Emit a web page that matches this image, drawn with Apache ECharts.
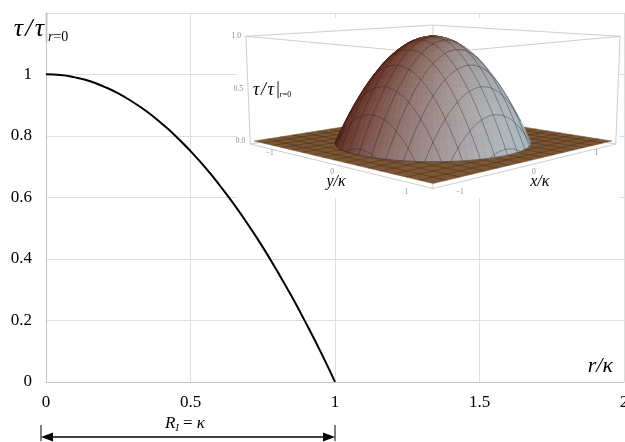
<!DOCTYPE html>
<html>
<head>
<meta charset="utf-8">
<script src="https://cdn.jsdelivr.net/npm/echarts@6.0.0/dist/echarts.min.js"></script>
<style>
  html, body { margin: 0; padding: 0; background: #fff; }
  #chart { width: 625px; height: 442px; }
</style>
</head>
<body>
<div id="chart"></div>
<script>
// Normalised stress profile tau / tau(r=0) across the radius r/kappa
const radius = [0, 0.05, 0.1, 0.15, 0.2, 0.25, 0.3, 0.35, 0.4, 0.45, 0.5,
                0.55, 0.6, 0.65, 0.7, 0.75, 0.8, 0.85, 0.9, 0.95, 1];
const tau = [1, 0.998, 0.99, 0.978, 0.96, 0.938, 0.91, 0.878, 0.84, 0.798, 0.75,
             0.698, 0.64, 0.578, 0.51, 0.438, 0.36, 0.278, 0.19, 0.098, 0];

// Axis ticks of the main plot
const xTickValues = [0, 0.5, 1, 1.5, 2];
const yTickValues = [0, 0.2, 0.4, 0.6, 0.8, 1];

// Ticks of the 3D inset (plane axes and height axis)
const insetPlaneTicks = [-1, 0, 1];
const insetPlaneTickLabels = ['\u22121', '0', '1'];
const insetHeightTicks = [0, 0.5, 1];
const insetHeightTickLabels = ['0.0', '0.5', '1.0'];

const serif = "'Liberation Serif', 'Times New Roman', serif";

// ---- perspective camera for the inset surface ----
const VIEW = { cx: 433, cy: 141, F: 875, d: 9, sinE: 0.19, zScale: 1.072 };
VIEW.cosE = Math.sqrt(1 - VIEW.sinE * VIEW.sinE);
const camera = [-VIEW.d * VIEW.cosE / Math.SQRT2, VIEW.d * VIEW.cosE / Math.SQRT2, VIEW.d * VIEW.sinE];

function project(x, y, z) {
  const zs = z * VIEW.zScale;
  const w = (y - x) / Math.SQRT2;
  const h = (x + y) / Math.SQRT2;
  const depth = VIEW.d - w * VIEW.cosE - zs * VIEW.sinE;
  return [VIEW.cx + VIEW.F * h / depth,
          VIEW.cy - VIEW.F * (zs * VIEW.cosE - w * VIEW.sinE) / depth,
          depth];
}

// linear light response: base + right-facing + viewer-facing + up-facing terms
const LIGHT_BASE = [130, 124, 132];
const LIGHT_RIGHT = [42, 80, 92];
const LIGHT_FRONT = [45, 50, 52];
const LIGHT_UP = [-20, -52, -74];
function shade(nx, ny, nz) {
  const nh = (nx + ny) / Math.SQRT2;
  const nw = (ny - nx) / Math.SQRT2;
  const c = [0, 1, 2].map(k => Math.round(Math.max(0, Math.min(255,
    LIGHT_BASE[k] + LIGHT_RIGHT[k] * nh + LIGHT_FRONT[k] * nw + LIGHT_UP[k] * nz))));
  return 'rgb(' + c.join(',') + ')';
}

function profileAt(r) {
  const n = radius.length;
  if (r >= radius[n - 1]) {
    return { z: tau[n - 1], slope: (tau[n - 1] - tau[n - 2]) / (radius[n - 1] - radius[n - 2]) };
  }
  let i = 0;
  while (i < n - 2 && r > radius[i + 1]) i++;
  const f = (r - radius[i]) / (radius[i + 1] - radius[i]);
  return { z: tau[i] + f * (tau[i + 1] - tau[i]),
           slope: (tau[i + 1] - tau[i]) / (radius[i + 1] - radius[i]) };
}

function facesCamera(x, y, z, slope) {
  const r = Math.hypot(x, y);
  const m = slope * VIEW.zScale;
  let nx = 0, ny = 0, nz = 1;
  if (r > 1e-9) { nx = -m * x / r; ny = -m * y / r; }
  const l = Math.hypot(nx, ny, nz);
  nx /= l; ny /= l; nz /= l;
  const pz = z * VIEW.zScale;
  return nx * (camera[0] - x) + ny * (camera[1] - y) + nz * (camera[2] - pz) > 0;
}

function renderInset(params, api) {
  const kids = [];
  let order = 0;
  const push = el => { el.z2 = order++; kids.push(el); };
  const xy = p => [p[0], p[1]];

  // white panel behind the inset
  push({ type: 'rect', shape: { x: 237, y: 18, width: 382, height: 180 }, style: { fill: '#fff' } });

  // bounding box
  const BOX = 1.33, BOX_LO = -0.03, BOX_HI = 1.0;
  const corners = [[-BOX, -BOX], [BOX, -BOX], [BOX, BOX], [-BOX, BOX]];
  const edge = (a, b) => push({ type: 'line',
    shape: { x1: a[0], y1: a[1], x2: b[0], y2: b[1] },
    style: { stroke: '#c2c2c2', lineWidth: 0.8 } });
  for (let k = 0; k < 4; k++) {
    const a = corners[k], b = corners[(k + 1) % 4];
    edge(project(a[0], a[1], BOX_LO), project(b[0], b[1], BOX_LO));
    edge(project(a[0], a[1], BOX_HI), project(b[0], b[1], BOX_HI));
    edge(project(a[0], a[1], BOX_LO), project(a[0], a[1], BOX_HI));
  }

  // base plane
  const PLANE = 1.3;
  push({ type: 'polygon',
    shape: { points: [[-PLANE, -PLANE], [PLANE, -PLANE], [PLANE, PLANE], [-PLANE, PLANE]]
      .map(c => xy(project(c[0], c[1], 0))) },
    style: { fill: '#7a5634', stroke: '#7a5634', lineWidth: 0.5 } });

  const meshStep = 2 * PLANE / 16;
  const meshValues = [];
  for (let k = 1; k <= 15; k++) meshValues.push(-PLANE + k * meshStep);
  meshValues.forEach(m => {
    const a1 = project(m, -PLANE, 0), a2 = project(m, PLANE, 0);
    const b1 = project(-PLANE, m, 0), b2 = project(PLANE, m, 0);
    [[a1, a2], [b1, b2]].forEach(([p, q]) => push({ type: 'line',
      shape: { x1: p[0], y1: p[1], x2: q[0], y2: q[1] },
      style: { stroke: 'rgba(45,28,12,0.55)', lineWidth: 0.6 } }));
  });

  // dome facets (surface of revolution of the profile)
  const nT = 96;
  const quads = [];
  for (let i = 0; i < radius.length - 1; i++) {
    const r0 = radius[i], r1 = radius[i + 1], h0 = tau[i], h1 = tau[i + 1];
    const m = (h1 - h0) * VIEW.zScale / (r1 - r0);
    for (let j = 0; j < nT; j++) {
      const t0 = j * 2 * Math.PI / nT, t1 = (j + 1) * 2 * Math.PI / nT, tm = (t0 + t1) / 2;
      let nx = -m * Math.cos(tm), ny = -m * Math.sin(tm), nz = 1;
      const nl = Math.hypot(nx, ny, nz);
      nx /= nl; ny /= nl; nz /= nl;
      const rm = (r0 + r1) / 2, px = rm * Math.cos(tm), py = rm * Math.sin(tm);
      const hm = (h0 + h1) / 2, pz = hm * VIEW.zScale;
      const dot = nx * (camera[0] - px) + ny * (camera[1] - py) + nz * (camera[2] - pz);
      if (dot <= 0) continue;
      const pts = [
        project(r0 * Math.cos(t0), r0 * Math.sin(t0), h0),
        project(r1 * Math.cos(t0), r1 * Math.sin(t0), h1),
        project(r1 * Math.cos(t1), r1 * Math.sin(t1), h1),
        project(r0 * Math.cos(t1), r0 * Math.sin(t1), h0)
      ].map(xy);
      quads.push({ pts, depth: project(px, py, hm)[2], color: shade(nx, ny, nz) });
    }
  }
  quads.sort((a, b) => b.depth - a.depth);
  quads.forEach(q => push({ type: 'polygon', shape: { points: q.pts },
    style: { fill: q.color, stroke: q.color, lineWidth: 0.6 } }));

  // mesh curves on the dome
  const flush = (run, stroke, width) => {
    if (run.length > 1) push({ type: 'polyline', shape: { points: run.slice() },
      style: { stroke, lineWidth: width, fill: null } });
  };
  const meshInk = 'rgba(35,25,25,0.6)';
  meshValues.forEach(m => {
    if (Math.abs(m) >= 1) return;
    const s = Math.sqrt(1 - m * m);
    [0, 1].forEach(fam => {
      let run = [];
      const N = 64;
      for (let q = 0; q <= N; q++) {
        const t = -s + 2 * s * q / N;
        const x = fam ? m : t, y = fam ? t : m;
        const pr = profileAt(Math.min(1, Math.hypot(x, y)));
        if (facesCamera(x, y, pr.z, pr.slope)) run.push(xy(project(x, y, pr.z)));
        else { flush(run, meshInk, 0.6); run = []; }
      }
      flush(run, meshInk, 0.6);
    });
  });

  // rim where the dome meets the plane
  {
    let run = [];
    const N = 180;
    const lastSlope = profileAt(radius[radius.length - 1]).slope;
    for (let q = 0; q <= N; q++) {
      const t = q * 2 * Math.PI / N;
      const x = Math.cos(t), y = Math.sin(t);
      if (facesCamera(x, y, 0, lastSlope)) run.push(xy(project(x, y, 0)));
      else { flush(run, 'rgba(45,25,20,0.65)', 0.8); run = []; }
    }
    flush(run, 'rgba(45,25,20,0.65)', 0.8);
  }

  // tick labels
  const tickFont = "7.5px " + serif;
  const label = (text, x, y, align, font, fill) => push({ type: 'text',
    style: { text, x, y, font, fill: fill || '#8c8c8c', textAlign: align, textVerticalAlign: 'middle',
             align, verticalAlign: 'middle' } });
  insetHeightTicks.forEach((v, i) => {
    const p = project(-BOX, -BOX, v);
    label(insetHeightTickLabels[i], p[0] - 5, p[1], 'right', tickFont);
  });
  insetPlaneTicks.forEach((v, i) => {
    const p = project(-BOX, v, 0);
    const w = (v + BOX) / Math.SQRT2;
    label(insetPlaneTickLabels[i], p[0] + 1, p[1] + 7 + 4.5 * w, 'center', tickFont);
    const q = project(v, BOX, 0);
    const wq = (BOX - v) / Math.SQRT2;
    label(insetPlaneTickLabels[i], q[0] - 1, q[1] + 7 + 4.5 * wq, 'center', tickFont);
  });

  // axis titles
  const titleFont = "italic 16px " + serif;
  const py0 = project(-BOX, 0, 0);
  label('y/\u03ba', py0[0] + 5, py0[1] + 21, 'center', titleFont, '#000');
  const px0 = project(0, BOX, 0);
  label('x/\u03ba', px0[0] + 5, px0[1] + 21, 'center', titleFont, '#000');

  const pz = project(-BOX, -BOX, 0.5);
  label('\u03c4\u200a/\u200a\u03c4', pz[0] + 5, pz[1] + 1, 'left', "italic 18px " + serif, '#000');
  push({ type: 'line', shape: { x1: pz[0] + 30, y1: pz[1] - 8, x2: pz[0] + 30, y2: pz[1] + 9 },
    style: { stroke: '#000', lineWidth: 0.9 } });
  push({ type: 'text', style: { text: '{i|r}{n|=0}', x: pz[0] + 31.5, y: pz[1] + 6,
    textAlign: 'left', textVerticalAlign: 'middle', align: 'left', verticalAlign: 'middle',
    rich: { i: { fontStyle: 'italic', fontSize: 8, fontFamily: serif, fill: '#000' },
            n: { fontSize: 8, fontFamily: serif, fill: '#000' } } } });

  return { type: 'group', children: kids };
}

const near = (list, v) => list.some(t => Math.abs(t - v) < 1e-6);

const chart = echarts.init(document.getElementById('chart'), null, { renderer: 'canvas' });
chart.setOption({
  animation: false,
  backgroundColor: '#fff',
  grid: { left: 46, right: 1, top: 12.8, bottom: 60.2, containLabel: false, outerBoundsMode: 'none' },
  xAxis: {
    type: 'value', min: 0, max: 2, interval: 0.5,
    axisLine: { show: true, lineStyle: { color: '#c4c4c4', width: 1 } },
    axisTick: { show: false },
    splitLine: { show: true, lineStyle: { color: '#dedede', width: 1 } },
    axisLabel: { color: '#000', fontFamily: serif, fontSize: 17, margin: 12,
      formatter: v => near(xTickValues, v) ? String(+v.toFixed(2)) : '' }
  },
  yAxis: {
    type: 'value', min: 0, max: 1.2, interval: 0.2,
    axisLine: { show: true, lineStyle: { color: '#c4c4c4', width: 1 } },
    axisTick: { show: false },
    splitLine: { show: true, lineStyle: { color: '#dedede', width: 1 } },
    axisLabel: { color: '#000', fontFamily: serif, fontSize: 17, margin: 14,
      formatter: v => near(yTickValues, v) ? String(+v.toFixed(2)) : '' }
  },
  series: [
    {
      type: 'line', data: radius.map((r, i) => [r, tau[i]]),
      smooth: true, showSymbol: false, silent: true, z: 3,
      lineStyle: { color: '#000', width: 2 }
    },
    {
      type: 'custom', coordinateSystem: 'none', data: [0], silent: true, z: 4,
      renderItem: renderInset
    }
  ]
});

// annotations tied to the axis scale
const origin = chart.convertToPixel({ gridIndex: 0 }, [0, 0]);
const rOne = chart.convertToPixel({ gridIndex: 0 }, [1, 0]);
const yTop = chart.convertToPixel({ gridIndex: 0 }, [0, 1.2]);
const xl = origin[0] - 5, xr = rOne[0], ya = 437;

chart.setOption({
  graphic: [
    { type: 'text', style: { text: '\u03c4\u200a/\u200a\u03c4', x: origin[0] - 2, y: yTop[1] + 16,
        font: 'italic 26px ' + serif, fill: '#000', textAlign: 'right', textVerticalAlign: 'middle' } },
    { type: 'line', shape: { x1: origin[0] + 0.5, y1: yTop[1], x2: origin[0] + 0.5, y2: yTop[1] + 30 },
      style: { stroke: '#000', lineWidth: 1.2 } },
    { type: 'text', style: { text: '{i|r}{n|=0}', x: origin[0] + 2, y: yTop[1] + 25,
        textAlign: 'left', textVerticalAlign: 'middle',
        rich: { i: { fontStyle: 'italic', fontSize: 14, fontFamily: serif, fill: '#000' },
                n: { fontSize: 14, fontFamily: serif, fill: '#000' } } } },
    { type: 'text', style: { text: 'r/\u03ba', x: 613, y: origin[1] - 16,
        font: 'italic 22px ' + serif, fill: '#000', textAlign: 'right', textVerticalAlign: 'middle' } },
    // dimension line for R_I = kappa
    { type: 'line', shape: { x1: xl, y1: 425, x2: xl, y2: 441 }, style: { stroke: '#000', lineWidth: 1 } },
    { type: 'line', shape: { x1: xr, y1: 425, x2: xr, y2: 441 }, style: { stroke: '#000', lineWidth: 1 } },
    { type: 'line', shape: { x1: xl + 8, y1: ya, x2: xr - 8, y2: ya }, style: { stroke: '#000', lineWidth: 1.4 } },
    { type: 'polygon', shape: { points: [[xl, ya], [xl + 12, ya - 4.5], [xl + 12, ya + 4.5]] }, style: { fill: '#000' } },
    { type: 'polygon', shape: { points: [[xr, ya], [xr - 12, ya - 4.5], [xr - 12, ya + 4.5]] }, style: { fill: '#000' } },
    { type: 'text', style: { text: '{i|R}{s|I}{n| = }{i|\u03ba}', x: (xl + xr) / 2 - 3, y: 424,
        textAlign: 'center', textVerticalAlign: 'middle',
        rich: { i: { fontStyle: 'italic', fontSize: 17, fontFamily: serif, fill: '#000', lineHeight: 18 },
                s: { fontStyle: 'italic', fontSize: 10, fontFamily: serif, fill: '#000', verticalAlign: 'bottom', lineHeight: 10 },
                n: { fontSize: 17, fontFamily: serif, fill: '#000', lineHeight: 18 } } } }
  ]
});
</script>
</body>
</html>
